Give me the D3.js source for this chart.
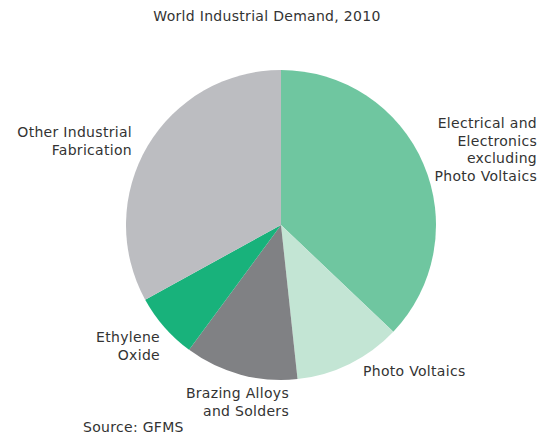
<!DOCTYPE html>
<html>
<head>
<meta charset="utf-8">
<script src="https://cdn.jsdelivr.net/npm/d3@7"></script>
<style>
  html, body { margin: 0; padding: 0; background: #ffffff; }
  svg { display: block; font-family: "DejaVu Sans", Verdana, sans-serif; letter-spacing: 0.3px; }
</style>
</head>
<body>
<script>
// Share of world industrial silver demand, 2010 (percent)
const categories = [
  "Electrical and Electronics excluding Photo Voltaics",
  "Photo Voltaics",
  "Brazing Alloys and Solders",
  "Ethylene Oxide",
  "Other Industrial Fabrication"
];
const shares = [37.1, 11.2, 11.8, 6.9, 33.0];
const sliceColors = ["#6fc6a0", "#c3e5d4", "#808184", "#18b27b", "#bcbdc1"];

// Label text broken into lines, with anchor and placement
const labelLines = [
  ["Electrical and", "Electronics", "excluding", "Photo Voltaics"],
  ["Photo Voltaics"],
  ["Brazing Alloys", "and Solders"],
  ["Ethylene", "Oxide"],
  ["Other Industrial", "Fabrication"]
];
const labelLayout = [
  { x: 537, y: 128, anchor: "end" },
  { x: 363, y: 376, anchor: "start" },
  { x: 289, y: 398, anchor: "end" },
  { x: 160, y: 342, anchor: "end" },
  { x: 132, y: 137, anchor: "end" }
];

const width = 546, height = 437;
const cx = 281, cy = 225, radius = 155;
const fontSize = 14;
const lineGap = 17.5;

const svg = d3.select("body").append("svg")
  .attr("width", width)
  .attr("height", height);

svg.append("text")
  .attr("x", 267)
  .attr("y", 21)
  .attr("text-anchor", "middle")
  .attr("font-size", fontSize)
  .attr("fill", "#333333")
  .text("World Industrial Demand, 2010");

const pie = d3.pie().sort(null).value(d => d)(shares);
const arc = d3.arc().innerRadius(0).outerRadius(radius);

svg.append("g")
  .attr("transform", `translate(${cx},${cy})`)
  .selectAll("path")
  .data(pie)
  .join("path")
  .attr("d", arc)
  .attr("fill", (d, i) => sliceColors[i]);

const labels = svg.append("g")
  .attr("font-size", fontSize)
  .attr("fill", "#333333");

labelLines.forEach((lines, i) => {
  const L = labelLayout[i];
  const t = labels.append("text")
    .attr("text-anchor", L.anchor)
    .attr("x", L.x)
    .attr("y", L.y);
  lines.forEach((ln, k) => {
    t.append("tspan")
      .attr("x", L.x)
      .attr("y", L.y + k * lineGap)
      .text(ln);
  });
});

svg.append("text")
  .attr("x", 83)
  .attr("y", 432)
  .attr("font-size", fontSize)
  .attr("fill", "#333333")
  .text("Source: GFMS");
</script>
</body>
</html>
